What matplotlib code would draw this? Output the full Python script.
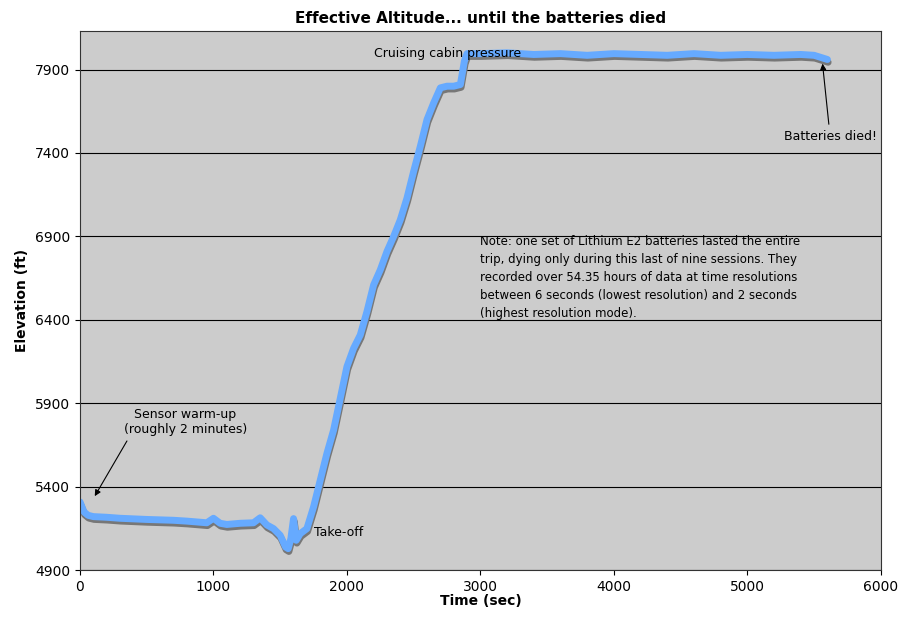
import matplotlib
matplotlib.use("Agg")
import matplotlib.pyplot as plt
import matplotlib.patheffects as pe

time_s = [0, 30, 60, 100, 200, 300, 500, 700, 800, 950, 1000, 1050, 1100, 1200, 1300, 1350, 1400,
          1450, 1500, 1540, 1560, 1580, 1600, 1620, 1650, 1700, 1750, 1800, 1850, 1900, 1950, 2000,
          2050, 2100, 2150, 2200, 2250, 2300, 2350, 2400, 2450, 2500, 2550, 2600, 2650, 2700, 2750,
          2800, 2850, 2880, 2900, 3000, 3200, 3400, 3600, 3800, 4000, 4200, 4400, 4600, 4800, 5000,
          5200, 5400, 5500, 5600]
elev_ft = [5310, 5250, 5230, 5222, 5218, 5212, 5205, 5200, 5195, 5185, 5212, 5182, 5175, 5182, 5185,
           5215, 5172, 5150, 5110, 5040, 5030, 5090, 5210, 5080, 5120, 5150, 5280, 5440, 5600, 5740,
           5930, 6120, 6230, 6310, 6450, 6610, 6700, 6810, 6900, 7000, 7130, 7290, 7440, 7600,
           7700, 7790, 7800, 7800, 7810, 7950, 7995, 7995, 8000, 7990, 7995, 7985, 7995, 7990,
           7985, 7995, 7985, 7990, 7985, 7990, 7985, 7960]

fig = plt.figure(figsize=(9.09, 6.22), dpi=100)
ax = fig.add_axes([0.088, 0.083, 0.881, 0.867])
ax.set_facecolor('#cccccc')
ax.plot(time_s, elev_ft, color='#66aaff', lw=5, solid_capstyle='round',
        path_effects=[pe.SimpleLineShadow(offset=(0.5, -2), shadow_color='#777777', alpha=1), pe.Normal()])
ax.set_xlim(0, 6000)
ax.set_ylim(4900, 8130)
ax.set_xticks(range(0, 6001, 1000))
ax.set_yticks(range(4900, 8000, 500))
ax.yaxis.grid(True, color='black', lw=0.8)
ax.set_axisbelow(True)
for s in ax.spines.values():
    s.set_color('#333333')
ax.tick_params(labelsize=10)
ax.set_title('Effective Altitude... until the batteries died', fontsize=11, fontweight='bold', pad=6)
ax.set_xlabel('Time (sec)', fontsize=10, fontweight='bold', labelpad=0)
ax.set_ylabel('Elevation (ft)', fontsize=10, fontweight='bold')

ax.text(2200, 7975, 'Cruising cabin pressure', fontsize=9)
ax.annotate('Batteries died!', xy=(5560, 7960), xytext=(5620, 7500), fontsize=9, ha='center', va='center',
            arrowprops=dict(arrowstyle='-|>', color='black', lw=0.8, shrinkB=3))
ax.annotate('Sensor warm-up\n(roughly 2 minutes)', xy=(100, 5330), xytext=(790, 5790), fontsize=9,
            ha='center', va='center',
            arrowprops=dict(arrowstyle='-|>', color='black', lw=0.8, relpos=(0.05, 0)))
ax.text(1750, 5125, 'Take-off', fontsize=9, va='center')
ax.text(3000, 6910, 'Note: one set of Lithium E2 batteries lasted the entire\n'
        'trip, dying only during this last of nine sessions. They\n'
        'recorded over 54.35 hours of data at time resolutions\n'
        'between 6 seconds (lowest resolution) and 2 seconds\n'
        '(highest resolution mode).', fontsize=8.5, va='top', linespacing=1.5)
fig.savefig('out.png', dpi=100)
